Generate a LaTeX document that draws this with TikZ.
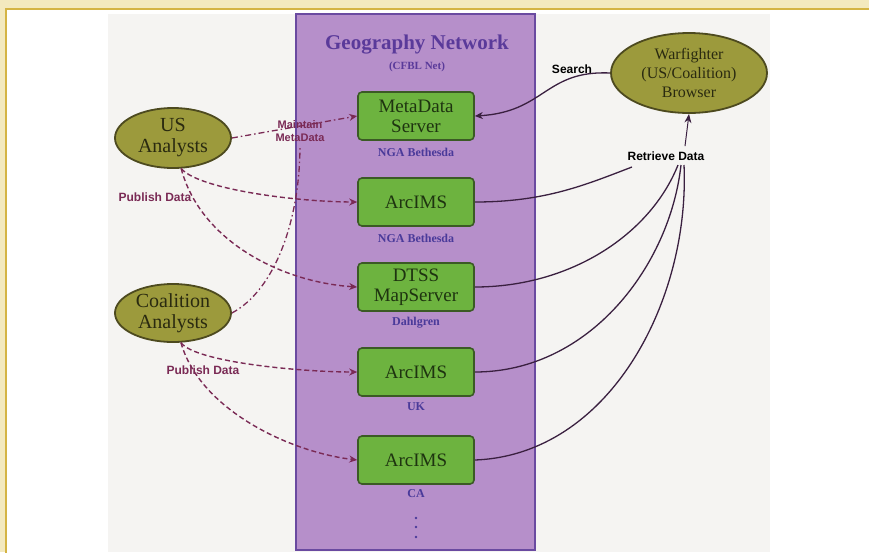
\documentclass[tikz,border=0pt]{standalone}
\usepackage{fontspec}
\setmainfont{Liberation Serif}
\newfontfamily\labsans{Liberation Sans}
\usetikzlibrary{arrows.meta,shapes.geometric}
\definecolor{outerbg}{HTML}{F3E9BE}
\definecolor{goldline}{HTML}{D4B444}
\definecolor{imgbg}{HTML}{F5F4F2}
\definecolor{netfill}{HTML}{B68FCA}
\definecolor{netborder}{HTML}{6A4AA0}
\definecolor{boxfill}{HTML}{6DB33F}
\definecolor{boxborder}{HTML}{3B5A25}
\definecolor{boxtext}{HTML}{1E3410}
\definecolor{olivefill}{HTML}{9C9A3C}
\definecolor{oliveborder}{HTML}{4D4A1F}
\definecolor{olivetext}{HTML}{2A2A10}
\definecolor{pubcol}{HTML}{7A2A55}
\definecolor{sitecol}{HTML}{4A3A9A}
\definecolor{titlecol}{HTML}{5A3A9A}
\definecolor{retcol}{HTML}{3A2040}
\tikzset{
  srvbox/.style={draw=boxborder, fill=boxfill, line width=1.6pt, rounded corners=4pt,
    minimum width=116pt, minimum height=48pt, inner sep=1pt, align=center, text=boxtext,
    font=\fontsize{19}{20}\selectfont},
  actor/.style={ellipse, draw=oliveborder, fill=olivefill, line width=1.8pt, inner sep=0pt,
    align=center, text=olivetext, font=\fontsize{20}{21}\selectfont},
  sitelab/.style={text=sitecol, font=\fontsize{12}{13}\bfseries\selectfont},
  edgelab/.style={font=\labsans\bfseries\fontsize{12}{13}\selectfont, align=center},
  pubarrow/.style={draw=pubcol, line width=1.4pt, dash pattern=on 5pt off 3pt, -{Stealth[length=8pt,width=7pt]}},
  maintline/.style={draw=pubcol, line width=1.3pt, dash pattern=on 6pt off 3pt on 1.5pt off 3pt},
  retline/.style={draw=retcol, line width=1.3pt},
  dotmark/.style={fill=sitecol, circle, inner sep=0pt, minimum size=2.6pt},
}
\begin{document}
\begin{tikzpicture}[x=1pt,y=-1pt]
\useasboundingbox (0,0) rectangle (869,552);
\fill[outerbg] (0,0) rectangle (869,552);
\fill[white] (7,10) rectangle (869,552);
\draw[goldline, line width=2pt] (6,553) -- (6,9) -- (870,9);
\fill[imgbg] (108,14) rectangle (770,552);
% network panel
\draw[netborder, fill=netfill, line width=2pt] (296,14) rectangle (535,550);
\node[text=titlecol, font=\fontsize{21}{23}\selectfont\bfseries] (title) at (417,45) {Geography Network};
\node[text=titlecol, font=\fontsize{11}{12}\bfseries\selectfont] (cfbl) at (417,67) {(CFBL Net)};
% servers
\node[srvbox] (meta) at (416,116) {MetaData\\Server};
\node[sitelab] (l1) at (416,152) {NGA Bethesda};
\node[srvbox] (a1) at (416,202) {ArcIMS};
\node[sitelab] (l2) at (416,238) {NGA Bethesda};
\node[srvbox] (dtss) at (416,287) {DTSS\\MapServer};
\node[sitelab] (l3) at (416,323) {Dahlgren};
\node[srvbox] (uk) at (416,372) {ArcIMS};
\node[sitelab] (l4) at (416,407) {UK};
\node[srvbox] (ca) at (416,460) {ArcIMS};
\node[sitelab] (l5) at (416,494) {CA};
\node[dotmark] (d1) at (416,518) {};
\node[dotmark] (d2) at (416,527) {};
\node[dotmark] (d3) at (416,537) {};
% actors
\node[actor, minimum width=116pt, minimum height=60pt] (us) at (173,138) {US\\Analysts};
\node[actor, minimum width=116pt, minimum height=58pt] (coal) at (173,313) {Coalition\\Analysts};
\node[actor, minimum width=156pt, minimum height=80pt, font=\fontsize{16}{19}\selectfont] (wf) at (689,73) {Warfighter\\(US/Coalition)\\Browser};
% maintain metadata
\node[edgelab, text=pubcol, font=\labsans\bfseries\fontsize{11}{13}\selectfont] (maint) at (300,131) {Maintain\\MetaData};
\draw[maintline, -{Stealth[length=8pt,width=7pt]}] (us.east) -- (meta.west);
\draw[maintline] (coal.east) .. controls (275,290) and (300,220) .. (maint.south);
% publish data
\node[edgelab, text=pubcol] (pub1) at (155,197) {Publish Data};
\node[edgelab, text=pubcol] (pub2) at (203,370) {Publish Data};
\draw[pubarrow] (us.285) .. controls (200,190) and (300,202) .. (a1.west);
\draw[pubarrow] (us.285) .. controls (200,240) and (280,282) .. (dtss.west);
\draw[pubarrow] (coal.285) .. controls (195,362) and (300,372) .. (uk.west);
\draw[pubarrow] (coal.285) .. controls (200,410) and (290,452) .. (ca.west);
% search
\node[edgelab] (search) at (572,69) {Search};
\draw[retline, -{Stealth[length=8pt,width=7pt]}] (wf.west) .. controls (545,70) and (545,112) .. (meta.east);
% retrieve data
\node[edgelab] (ret) at (666,156) {Retrieve Data};
\coordinate (r1) at (632,167);
\coordinate (r2) at (678,165);
\coordinate (r3) at (681,165);
\coordinate (r4) at (684,165);
\draw[retline] (a1.east) .. controls (545,202) and (585,185) .. (r1);
\draw[retline] (dtss.east) .. controls (570,287) and (650,235) .. (r2);
\draw[retline] (uk.east) .. controls (590,372) and (670,265) .. (r3);
\draw[retline] (ca.east) .. controls (610,455) and (690,300) .. (r4);
\draw[retline, line width=1pt, -{Stealth[length=9pt,width=7pt]}] (ret.north -| wf.south) ++(-4,-2) coordinate (rs) -- (wf.south);
\end{tikzpicture}
\end{document}
